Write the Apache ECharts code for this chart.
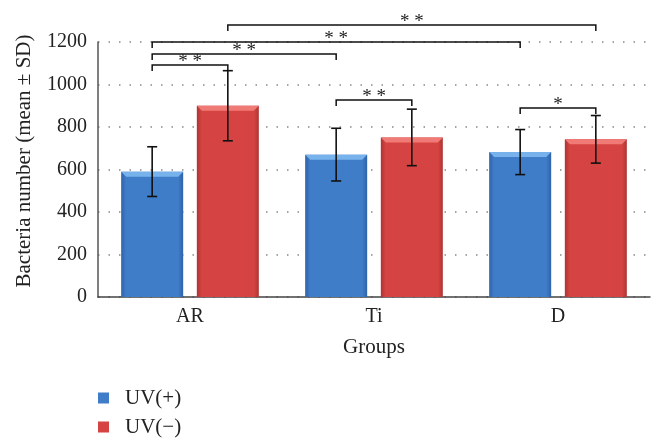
<!DOCTYPE html>
<html><head><meta charset="utf-8">
<script src="https://cdn.jsdelivr.net/npm/echarts@6/dist/echarts.min.js"></script>
<style>html,body{margin:0;padding:0;background:#fff}#c{width:663px;height:448px}</style>
</head><body><div id="c"></div>
<script>
const categories = ['AR', 'Ti', 'D'];
const seriesNames = ['UV(+)', 'UV(\u2212)'];
const uvPlus = [590, 670, 682];
const uvMinus = [900, 751, 742];
const sdPlus = [117, 124, 106];
const sdMinus = [165, 133, 112];
const yTicks = [0, 200, 400, 600, 800, 1000, 1200];
// significance brackets: [fromCategory, fromSeries, toCategory, toSeries, level, label]
const brackets = [
  [0, 1, 2, 1, 1280, '* *'],
  [0, 0, 2, 0, 1200, '* *'],
  [0, 0, 1, 0, 1144, '* *'],
  [0, 0, 0, 1, 1092, '* *'],
  [1, 0, 1, 1, 927, '* *'],
  [2, 0, 2, 1, 889, '*']
];

const BAR_W = 0.337, BAR_GAP = 0.22;
const OFF = BAR_W * (1 + BAR_GAP) / 2;
const FONT = '"Liberation Serif", "DejaVu Serif", serif';
const blue = '#3F7DC8', red = '#D54442';
const blueLight = '#78B2EC', redLight = '#F07A76';
const blueDark = '#2F63A8', redDark = '#AE3432';

function grad(mid, dark) {
  return new echarts.graphic.LinearGradient(0, 0, 1, 0, [
    {offset: 0, color: dark}, {offset: 0.08, color: mid},
    {offset: 0.92, color: mid}, {offset: 1, color: dark}
  ]);
}

const errData = [];
for (let i = 0; i < categories.length; i++) {
  errData.push([i, uvPlus[i], sdPlus[i], 0]);
  errData.push([i, uvMinus[i], sdMinus[i], 1]);
}

function xPos(api, cat, s) {
  const c = api.coord([cat, 0]);
  const bw = api.size([1, 0])[0];
  return c[0] + (s === 0 ? -1 : 1) * bw * OFF;
}

const chart = echarts.init(document.getElementById('c'));
chart.setOption({
  animation: false,
  grid: {left: 98, right: 13, top: 42, bottom: 151},
  legend: {
    orient: 'vertical', left: 98, top: 386, padding: 0, itemWidth: 11, itemHeight: 11, itemGap: 5,
    icon: 'rect',
    data: [
      {name: seriesNames[0], itemStyle: {color: blue}},
      {name: seriesNames[1], itemStyle: {color: red}}
    ],
    textStyle: {fontFamily: FONT, fontSize: 21, color: '#222', padding: [0, 0, 0, 11], lineHeight: 24}
  },
  xAxis: {
    type: 'category', data: categories,
    name: 'Groups', nameLocation: 'middle', nameGap: 40,
    nameTextStyle: {fontFamily: FONT, fontSize: 21, color: '#222'},
    axisLine: {lineStyle: {color: '#444', width: 1.5}},
    axisTick: {show: false},
    axisLabel: {fontFamily: FONT, fontSize: 20, color: '#222', margin: 10}
  },
  yAxis: {
    type: 'value', min: yTicks[0], max: yTicks[yTicks.length - 1], interval: 200,
    name: 'Bacteria number (mean \u00b1 SD)', nameLocation: 'middle', nameGap: 63,
    nameTextStyle: {fontFamily: FONT, fontSize: 21, color: '#222', padding: [0, 0, 0, 17]},
    axisLine: {show: true, lineStyle: {color: '#555', width: 1.5}},
    axisTick: {show: false},
    axisLabel: {fontFamily: FONT, fontSize: 20, color: '#222', margin: 11, formatter: v => String(v)},
    splitLine: {lineStyle: {color: '#888', type: [1.5, 9], width: 1.5}}
  },
  series: [
    {
      name: seriesNames[0], type: 'bar', data: uvPlus,
      barWidth: (BAR_W * 100) + '%', barGap: (BAR_GAP * 100) + '%',
      itemStyle: {color: grad(blue, blueDark)}
    },
    {
      name: seriesNames[1], type: 'bar', data: uvMinus,
      barWidth: (BAR_W * 100) + '%', barGap: (BAR_GAP * 100) + '%',
      itemStyle: {color: grad(red, redDark)}
    },
    {
      type: 'custom', z: 5, clip: false, silent: true,
      data: errData,
      encode: {x: 0, y: 1},
      renderItem: function (params, api) {
        const cat = api.value(0), v = api.value(1), sd = api.value(2), s = api.value(3);
        const x = xPos(api, cat, s);
        const bw = api.size([1, 0])[0] * BAR_W;
        const top = api.coord([cat, v])[1];
        const hi = api.coord([cat, v + sd])[1];
        const lo = api.coord([cat, v - sd])[1];
        const x0 = x - bw / 2, x1 = x + bw / 2, b = 5;
        const style = {stroke: '#111', lineWidth: 1.6};
        return {
          type: 'group', children: [
            {type: 'polygon', shape: {points: [[x0, top], [x1, top], [x1 - b, top + b], [x0 + b, top + b]]},
              style: {fill: s === 0 ? blueLight : redLight}},
            {type: 'line', shape: {x1: x, y1: hi, x2: x, y2: lo}, style: style},
            {type: 'line', shape: {x1: x - 5, y1: hi, x2: x + 5, y2: hi}, style: style},
            {type: 'line', shape: {x1: x - 5, y1: lo, x2: x + 5, y2: lo}, style: style}
          ]
        };
      }
    },
    {
      type: 'custom', z: 6, clip: false, silent: true,
      data: brackets.map(b => [b[0], b[4], b[1], b[2], b[3]]),
      encode: {x: 0, y: 1},
      renderItem: function (params, api) {
        const b = brackets[params.dataIndex];
        const xa = xPos(api, b[0], b[1]);
        const xb = xPos(api, b[2], b[3]);
        const y = api.coord([b[0], b[4]])[1];
        const style = {stroke: '#111', lineWidth: 1.5, fill: null};
        return {
          type: 'group', children: [
            {type: 'polyline', shape: {points: [[xa, y + 6], [xa, y], [xb, y], [xb, y + 6]]}, style: style},
            {type: 'text', x: (xa + xb) / 2, y: y - 3,
              style: {text: b[5], fontFamily: FONT, fontSize: 19, fill: '#222', align: 'center', verticalAlign: 'middle'}}
          ]
        };
      }
    }
  ]
});
</script>
</body></html>
